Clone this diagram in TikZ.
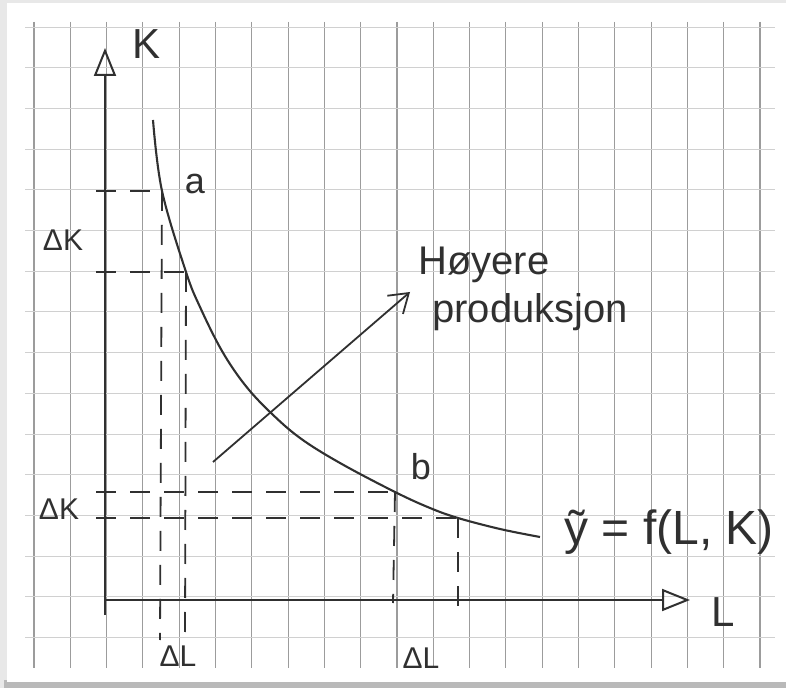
\documentclass[tikz,border=0pt]{standalone}
\usepackage{fontspec}
\setmainfont{Liberation Sans}
\usetikzlibrary{arrows.meta}
\definecolor{ink}{HTML}{303030}
\definecolor{gridv}{HTML}{9C9C9C}
\definecolor{gridh}{HTML}{D0D0D0}
\tikzset{
  gridvline/.style={draw=gridv, line width=0.55pt},
  gridhline/.style={draw=gridh, line width=0.45pt},
  axisline/.style={draw=ink, line width=1.3pt},
  curveline/.style={draw=ink, line width=1.05pt},
  dashline/.style={draw=ink, line width=0.9pt, dash pattern=on 10pt off 7pt},
  hand/.style={text=ink, inner sep=0pt},
}
\begin{document}
\begin{tikzpicture}[x=0.5pt, y=-0.5pt]
\useasboundingbox (0,0) rectangle (786,688);
% card
\fill[gray!18] (0,0) rectangle (786,688);
\fill[gray!55] (4,680) rectangle (786,688);
\fill[white] (7,3) rectangle (786,682);
% grid
\foreach \k in {0,...,20} {
  \draw[gridvline] ({34+36.3*\k},22) -- ({34+36.3*\k},668);
}
\foreach \k in {0,...,15} {
  \draw[gridhline] (25,{27+40.7*\k}) -- (775,{27+40.7*\k});
}
% key coordinates
\coordinate (O) at (105,600);
\coordinate (ytop) at (105,48);
\coordinate (ybot) at (105,615);
\coordinate (xend) at (690,600);
\coordinate (a) at (162,191);
\coordinate (a2) at (186,272);
\coordinate (b) at (395,492);
\coordinate (b2) at (458,518);
\coordinate (ka) at (96,191);
\coordinate (ka2) at (96,272);
\coordinate (kb) at (96,492);
\coordinate (kb2) at (96,518);
\coordinate (la) at (160,640);
\coordinate (la2) at (185,640);
\coordinate (lb) at (393,603);
\coordinate (lb2) at (458,612);
\coordinate (arrs) at (213,462);
\coordinate (arre) at (410,292);
% axes
\draw[axisline, -{Triangle[open, length=14pt, width=11pt, line width=1pt]}] (ybot) -- (ytop);
\draw[axisline, -{Triangle[open, length=14pt, width=11pt, line width=1pt]}] (O) -- (xend);
% curve
\draw[curveline] plot[smooth, tension=0.6] coordinates {
  (153,120) (a) (a2) (200,307) (222,351) (245,385) (270,412) (300,438)
  (340,463) (b) (430,508) (b2) (500,529) (540,537)};
% dashed guides
\draw[dashline] (ka) -- (a);
\draw[dashline] (ka2) -- (a2);
\draw[dashline] (kb) -- (b);
\draw[dashline] (kb2) -- (b2);
\draw[dashline] (a) -- (la);
\draw[dashline] (a2) -- (la2);
\draw[dashline] (b) -- (lb);
\draw[dashline] (b2) -- (lb2);
% arrow
\draw[curveline, line width=0.9pt, -{Straight Barb[length=9pt, width=12pt, line width=0.9pt]}] (arrs) -- (arre);
% labels
\node[hand, font=\fontsize{21}{24}\selectfont] (lK) at (147,44) {K};
\node[hand, font=\fontsize{21}{24}\selectfont] (lL) at (723,612) {L};
\node[hand, font=\fontsize{15}{18}\selectfont] (dK1) at (63,240) {ΔK};
\node[hand, font=\fontsize{15}{18}\selectfont] (dK2) at (59,509) {ΔK};
\node[hand, font=\fontsize{15}{18}\selectfont] (dL1) at (178,656) {ΔL};
\node[hand, font=\fontsize{15}{18}\selectfont] (dL2) at (421,658) {ΔL};
\node[hand, font=\fontsize{18}{20}\selectfont] (la) at (195,184) {a};
\node[hand, font=\fontsize{18}{20}\selectfont] (lb) at (421,467) {b};
\node[hand, font=\fontsize{20}{24}\selectfont, anchor=west] (t1) at (418,265) {Høyere};
\node[hand, font=\fontsize{20}{24}\selectfont, anchor=west] (t2) at (432,312) {produksjon};
\node[hand, font=\fontsize{24}{28}\selectfont, anchor=west] (fx) at (564,532) {ỹ = f(L, K)};
\end{tikzpicture}
\end{document}
